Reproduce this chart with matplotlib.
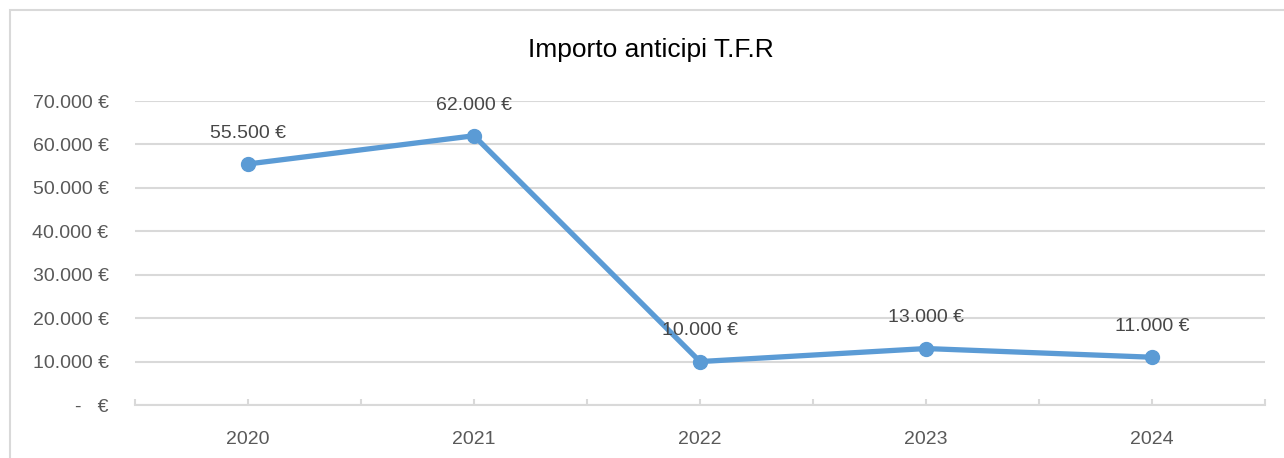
import matplotlib.pyplot as plt
from matplotlib.patches import Rectangle
from matplotlib.ticker import FuncFormatter

years = ["2020", "2021", "2022", "2023", "2024"]
amounts = [55500, 62000, 10000, 13000, 11000]
y_ticks = [0, 10000, 20000, 30000, 40000, 50000, 60000, 70000]

plt.rcParams['font.family'] = ['Liberation Sans Narrow', 'Liberation Sans', 'DejaVu Sans']

blue = "#5B9BD5"
grey_txt = "#595959"
grid = "#D9D9D9"


def euro(v, pos=None):
    if v == 0:
        return "-   €"
    return f"{int(v):,}".replace(",", ".") + " €"


fig = plt.figure(figsize=(12.84, 4.58), dpi=100)
ax = fig.add_axes([135 / 1284, 1 - 405 / 458, 1130 / 1284, 304 / 458])

x = list(range(len(years)))
ax.plot(x, amounts, color=blue, lw=3.8, marker="o", ms=10, solid_capstyle="round", zorder=3)
for xi, v in zip(x, amounts):
    ax.annotate(euro(v), (xi, v), xytext=(0, 16), textcoords="offset points",
                ha="center", va="bottom", fontsize=14, color="#474747")

ax.set_xlim(-0.5, len(years) - 0.5)
ax.set_ylim(0, 70000)
ax.set_yticks(y_ticks)
ax.yaxis.set_major_formatter(FuncFormatter(euro))
ax.set_xticks(x)
ax.set_xticklabels(years)
ax.set_xticks([i - 0.5 for i in range(len(years) + 1)], minor=True)

ax.grid(axis="y", color=grid, lw=1.5)
ax.set_axisbelow(True)
for s in ["top", "right", "left"]:
    ax.spines[s].set_visible(False)
ax.spines["bottom"].set_color(grid)
ax.spines["bottom"].set_linewidth(1.5)

ax.tick_params(axis="y", length=0, pad=19, labelsize=14, labelcolor=grey_txt)
ax.tick_params(axis="x", which="both", direction="in", length=4, width=1.5, color=grid,
               labelsize=14, labelcolor=grey_txt, pad=19)

fig.text(651 / 1284, 1 - 50 / 458, "Importo anticipi T.F.R", ha="center", va="center",
         fontsize=19, color="#000000")

fig.patches.append(Rectangle((10 / 1284, -0.1), 1.2, 1.1 - 10 / 458, transform=fig.transFigure,
                             fill=False, edgecolor="#D9D9D9", lw=1.5))

fig.savefig("out.png", dpi=100)
